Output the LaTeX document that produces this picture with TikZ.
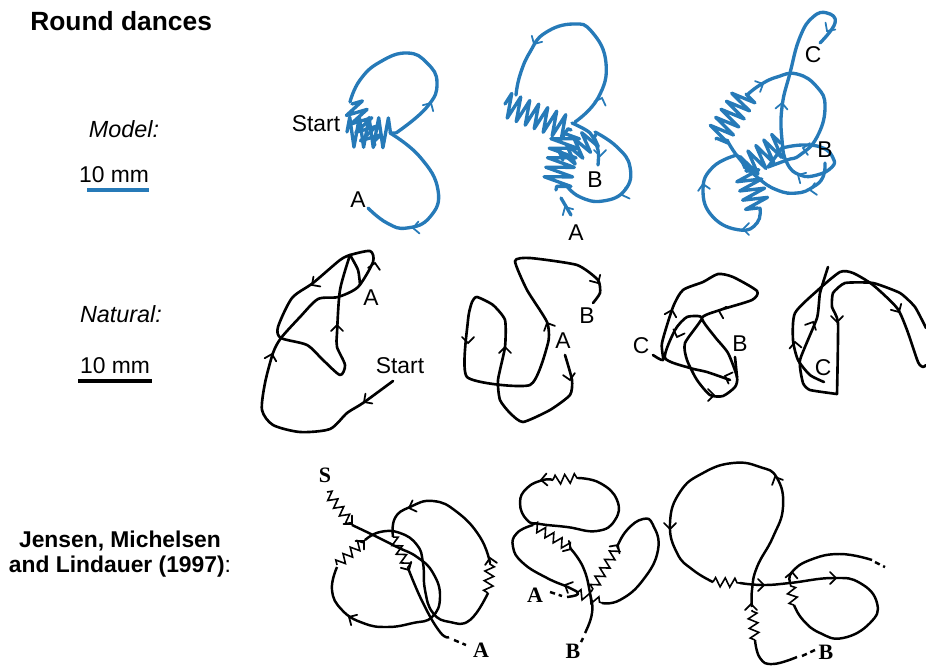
\documentclass[tikz,border=0pt]{standalone}
\usepackage{fontspec}
\setmainfont{Liberation Sans}
\newfontfamily\serifbold[BoldFont={Liberation Serif Bold}]{Liberation Serif}
\usetikzlibrary{decorations.pathmorphing}
\definecolor{danceblue}{RGB}{38,122,184}
\tikzset{
    blueline/.style={line width=1.9pt, danceblue, line cap=round, line join=round},
    sketchline/.style={line width=1.5pt, black, line cap=round, line join=round},
    printline/.style={line width=1.4pt, black, line join=round},
    printdash/.style={line width=1.4pt, black, dash pattern=on 3pt off 2.2pt},
    bluewag/.style={blueline, decorate, decoration={zigzag, amplitude=#1, segment length=5.5pt}},
    bluewag/.default=7pt,
    printwag/.style={line width=0.9pt, black, decorate, decoration={zigzag, amplitude=2.6pt, segment length=5.5pt}},
    label/.style={font=\fontsize{13}{15}\selectfont, inner sep=0pt},
    printlabel/.style={font=\fontsize{12.5}{15}\selectfont\serifbold\bfseries, inner sep=0pt}
}
% small open arrow head: colour/x/y/direction
\newcommand{\chevron}[4]{\draw[#1, line width=1pt, line cap=round, shift={(#2,#3)}, rotate=#4] (-6,-6) -- (0,0) -- (-6,6);}
\begin{document}
\begin{tikzpicture}[x=0.02cm, y=-0.02cm]
    \useasboundingbox (0,0) rectangle (926,666);
    % left column
    \node[label, font=\fontsize{15}{17}\selectfont\bfseries, anchor=west] (title) at (30,21) {Round dances};
    \node[label, font=\fontsize{13.3}{15}\selectfont\itshape] (modeltext) at (124,129) {Model:};
    \node[label] (modelscale) at (114,175) {10 mm};
    \draw[blueline, line cap=butt] (87,190) -- (149,190);
    \node[label, font=\fontsize{13.3}{15}\selectfont\itshape] (naturaltext) at (121,314) {Natural:};
    \node[label] (naturalscale) at (115,366) {10 mm};
    \draw[sketchline, line width=1.9pt, line cap=butt] (78,381) -- (152,381);
    \node[label, font=\fontsize{13}{15}\selectfont\bfseries] (jensen1) at (120,541) {Jensen, Michelsen};
    \node[label] (jensen2) at (120,567) {\textbf{and Lindauer (1997)}:};

    % model, first
    \draw[blueline] plot[smooth, tension=0.8] coordinates {(396,133) (427,107) (437,83) (427,63) (407,53) (380,62) (360,80) (350,102)};
    \draw[blueline] plot[smooth, tension=0.8] coordinates {(390,133) (420,157) (438,190) (430,217) (407,228) (387,223) (368,208)};
    \draw[bluewag=8.5pt] (347,132) -- (395,133);
    \draw[bluewag=6pt] (352,104) -- (375,145);
    \chevron{danceblue}{431}{103}{60}
    \chevron{danceblue}{413}{228}{185}
    \node[label] (start1) at (316,124) {Start};
    \node[label] (a1) at (358,200) {A};

    % model, second
    \draw[blueline] plot[smooth, tension=0.8] coordinates {(575,122) (598,98) (606,63) (592,32) (573,24) (545,33) (530,52) (520,75) (516,95)};
    \draw[blueline] plot[smooth, tension=0.8] coordinates {(595,132) (617,147) (630,167) (625,190) (603,201) (580,197) (566,185)};
    \draw[blueline] plot[smooth] coordinates {(572,123) (590,133) (598,150) (598,165)};
    \draw[blueline] (571,215) -- (561,198);
    \draw[bluewag] (505,104) -- (571,130);
    \draw[bluewag=8pt] (566,134) -- (556,190);
    \draw[bluewag=6pt] (563,160) -- (596,135);
    \chevron{danceblue}{565}{207}{120}
    \chevron{danceblue}{534}{44}{240}
    \chevron{danceblue}{602}{98}{70}
    \chevron{danceblue}{600}{156}{270}
    \chevron{danceblue}{622}{195}{200}
    \node[label] (b2) at (595,180) {B};
    \node[label] (a2) at (576,233) {A};

    % model, third
    \draw[blueline] plot[smooth, tension=0.8] coordinates {(820,43) (835,23) (827,13) (813,17) (800,37) (790,73) (782,107) (782,140) (787,163) (800,175) (817,175) (832,167) (833,158) (823,148) (803,145) (782,148)};
    \draw[blueline] plot[smooth, tension=0.8] coordinates {(768,167) (787,160) (800,155) (817,137) (825,107) (817,87) (797,74) (777,77) (760,85) (747,95)};
    \draw[blueline] plot[smooth, tension=0.8] coordinates {(727,140) (738,157) (757,177) (777,190) (797,193) (813,187) (823,177) (825,163)};
    \draw[blueline] plot[smooth, tension=0.8] coordinates {(737,155) (713,167) (703,190) (713,217) (740,230) (757,223) (760,208)};
    \draw[blueline] (782,148) -- (768,167);
    \draw[bluewag] (746,94) -- (716,139);
    \draw[bluewag] (758,208) -- (746,170);
    \draw[bluewag] (745,168) -- (781,143);
    \chevron{danceblue}{827}{31}{235}
    \chevron{danceblue}{782}{103}{85}
    \chevron{danceblue}{763}{84}{25}
    \chevron{danceblue}{803}{148}{170}
    \chevron{danceblue}{798}{175}{150}
    \chevron{danceblue}{810}{190}{190}
    \chevron{danceblue}{703}{184}{100}
    \chevron{danceblue}{743}{229}{180}
    \node[label] (c3) at (813,55) {C};
    \node[label] (b3) at (825,150) {B};

    % natural, first
    \draw[sketchline] plot[smooth, tension=0.45] coordinates {(393,381) (363,403) (347,413) (330,429) (300,432) (273,425) (262,410) (265,383) (273,353) (281,338) (300,317) (318,299) (338,297) (358,287) (373,262) (370,251) (350,255)};
    \draw[sketchline] plot[smooth, tension=0.45] coordinates {(350,255) (340,290) (337,333) (337,347) (345,365) (340,375) (323,360) (307,345) (281,338) (278,327) (292,298) (313,283) (340,260) (350,255)};
    \draw[sketchline] plot[smooth, tension=0.45] coordinates {(350,255) (358,270) (360,285)};
    \chevron{black}{364}{402}{215}
    \chevron{black}{272}{354}{75}
    \chevron{black}{312}{285}{215}
    \chevron{black}{337}{325}{90}
    \chevron{black}{375}{263}{80}
    \node[label] (a4) at (371,298) {A};
    \node[label] (start4) at (400,366) {Start};

    % natural, second
    \draw[sketchline] plot[smooth, tension=0.35] coordinates {(565,355) (572,380) (570,395) (550,410) (523,422) (510,413) (500,400) (498,380) (505,347) (505,320) (493,305) (477,297) (472,302) (468,320) (467,377) (530,385) (548,343) (547,322) (527,290) (515,261) (530,258) (577,265) (598,280) (600,293) (593,303)};
    \chevron{black}{570}{380}{280}
    \chevron{black}{598}{283}{300}
    \chevron{black}{547}{323}{115}
    \chevron{black}{505}{347}{90}
    \chevron{black}{468}{343}{270}
    \node[label] (a5) at (563,341) {A};
    \node[label] (b5) at (587,316) {B};

    % natural, third
    \draw[sketchline] plot[smooth, tension=0.4] coordinates {(653,355) (663,360) (662,343) (673,307) (683,290) (703,282) (718,274) (733,277) (757,291) (752,300) (720,310) (702,318) (715,337) (728,353) (737,377) (735,387) (723,396) (710,395) (697,380) (687,360) (685,343) (702,318) (687,317) (675,330) (665,358) (690,368) (707,372) (730,380)};
    \draw[sketchline] (735,357) -- (737,377);
    \chevron{black}{672}{310}{75}
    \chevron{black}{677}{337}{250}
    \chevron{black}{719}{311}{165}
    \chevron{black}{725}{376}{160}
    \chevron{black}{714}{395}{0}
    \node[label] (c6) at (641,346) {C};
    \node[label] (b6) at (740,344) {B};

    % natural, fourth
    \draw[sketchline] plot[smooth, tension=0.4] coordinates {(824,382) (810,375) (798,360) (793,340) (795,313) (818,290) (840,272) (853,273) (873,285) (897,308) (907,330) (918,362) (923,367) (926,365)};
    \draw[sketchline] plot[smooth, tension=0.3] coordinates {(828,267) (820,293) (817,318) (800,360) (803,383) (810,390) (837,394)};
    \draw[sketchline] plot[smooth, tension=0.3] coordinates {(837,394) (838,323) (832,307) (833,293) (845,283) (873,283) (900,293) (915,307) (926,328)};
    \chevron{black}{795}{342}{95}
    \chevron{black}{813}{322}{65}
    \chevron{black}{837}{322}{270}
    \chevron{black}{899}{312}{300}
    \node[label] (c7) at (823,368) {C};

    % printed, first
    \draw[printline] plot[smooth, tension=0.8] coordinates {(352,525) (373,535) (397,547) (417,557) (433,573) (440,597) (432,617) (413,623) (387,627) (363,623) (342,610) (332,590) (337,567)};
    \draw[printline] plot[smooth, tension=0.8] coordinates {(365,540) (380,532) (400,533) (417,545) (423,563) (425,590) (433,613) (450,622) (470,620) (488,593)};
    \draw[printline] plot[smooth, tension=0.8] coordinates {(490,563) (480,537) (457,512) (433,501) (410,507) (395,518) (393,537)};
    \draw[printline] plot[smooth, tension=0.8] coordinates {(408,568) (423,603) (440,632) (449,637)};
    \draw[printdash] (454,640) -- (466,645);
    \draw[printwag] (327,492) -- (352,525);
    \draw[printwag] (337,565) -- (365,540);
    \draw[printwag] (488,593) -- (490,563);
    \draw[printwag] (393,537) -- (408,568);
    \chevron{black}{352}{524}{315}
    \chevron{black}{364}{541}{45}
    \chevron{black}{409}{508}{200}
    \chevron{black}{490}{558}{100}
    \chevron{black}{409}{570}{300}
    \chevron{black}{349}{617}{150}
    \node[printlabel] (s8) at (325,475) {S};
    \node[printlabel] (a8) at (481,650) {A};

    % printed, second
    \draw[printline] plot[smooth, tension=0.8] coordinates {(578,478) (600,483) (617,500) (615,520) (597,531) (567,527) (540,524) (527,520) (520,503) (527,488) (543,480) (553,480)};
    \draw[printline] plot[smooth, tension=0.8] coordinates {(533,525) (517,533) (513,547) (523,563) (547,578) (570,588) (578,594) (567,597)};
    \draw[printdash] (550,592) -- (562,596);
    \draw[printline] plot[smooth, tension=0.8] coordinates {(570,548) (583,567) (590,593) (592,613) (585,633)};
    \draw[printdash] (583,638) -- (581,642);
    \draw[printline] plot[smooth, tension=0.8] coordinates {(602,603) (620,600) (643,580) (658,550) (653,525) (643,519) (627,530) (617,547)};
    \draw[printwag] (553,480) -- (578,478);
    \draw[printwag] (533,525) -- (570,548);
    \draw[printwag] (617,547) -- (591,592);
    \draw[printwag] (577,593) -- (602,603);
    \chevron{black}{541}{480}{185}
    \chevron{black}{571}{549}{330}
    \chevron{black}{618}{545}{55}
    \chevron{black}{565}{585}{155}
    \node[printlabel] (a9) at (535,595) {A};
    \node[printlabel] (b9) at (573,651) {B};

    % printed, third
    \draw[printline] plot[smooth, tension=0.8] coordinates {(797,657) (773,664) (760,658) (755,640)};
    \draw[printline] plot[smooth, tension=0.8] coordinates {(752,607) (752,590) (757,567) (773,537) (783,507) (777,478) (760,467) (733,463) (703,473) (680,492) (670,523) (677,553) (693,570) (713,582)};
    \draw[printline] plot[smooth, tension=0.8] coordinates {(740,583) (763,585) (790,583) (833,578) (860,583) (877,603) (870,623) (843,638) (820,633) (803,620) (794,605)};
    \draw[printline] plot[smooth, tension=0.8] coordinates {(790,582) (792,572) (810,560) (840,554) (872,560)};
    \draw[printdash] (875,562) -- (885,567);
    \draw[printdash] (802,656) -- (815,650);
    \draw[printwag] (755,640) -- (752,610);
    \draw[printwag] (713,582) -- (740,583);
    \draw[printwag] (794,605) -- (790,582);
    \chevron{black}{775}{477}{115}
    \chevron{black}{670}{529}{270}
    \chevron{black}{764}{585}{0}
    \chevron{black}{836}{578}{0}
    \chevron{black}{792}{572}{85}
    \chevron{black}{751}{604}{90}
    \node[printlabel] (b10) at (826,652) {B};
\end{tikzpicture}
\end{document}
